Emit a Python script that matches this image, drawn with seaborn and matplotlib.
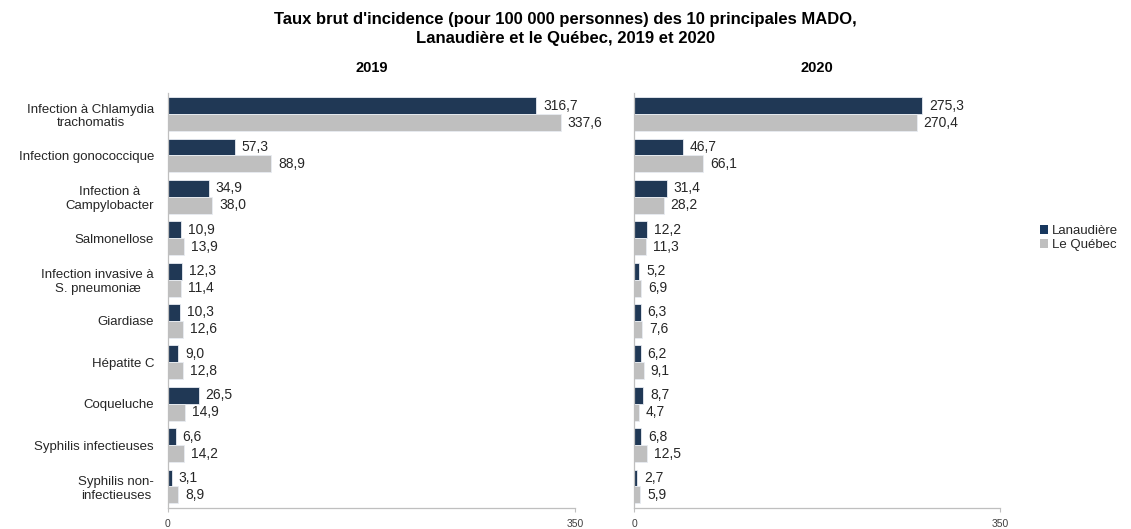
import matplotlib
matplotlib.use("Agg")
import matplotlib.pyplot as plt
from matplotlib.patches import Patch
import seaborn as sns
import pandas as pd

categories = [
    "Infection à Chlamydia\ntrachomatis",
    "Infection gonococcique",
    "Infection à\nCampylobacter",
    "Salmonellose",
    "Infection invasive à\nS. pneumoniæ",
    "Giardiase",
    "Hépatite C",
    "Coqueluche",
    "Syphilis infectieuses",
    "Syphilis non-\ninfectieuses",
]
regions = ["Lanaudière", "Le Québec"]
lanaudiere_2019 = [316.7, 57.3, 34.9, 10.9, 12.3, 10.3, 9.0, 26.5, 6.6, 3.1]
quebec_2019 = [337.6, 88.9, 38.0, 13.9, 11.4, 12.6, 12.8, 14.9, 14.2, 8.9]
lanaudiere_2020 = [275.3, 46.7, 31.4, 12.2, 5.2, 6.3, 6.2, 8.7, 6.8, 2.7]
quebec_2020 = [270.4, 66.1, 28.2, 11.3, 6.9, 7.6, 9.1, 4.7, 12.5, 5.9]
x_ticks = [0, 350]

colors = {"Lanaudière": "#17375E", "Le Québec": "#BFBFBF"}
text_color = "#262626"


def long_frame(lan, qc):
    rows = []
    for cat, a, b in zip(categories, lan, qc):
        rows.append({"cat": cat, "region": regions[0], "taux": a})
        rows.append({"cat": cat, "region": regions[1], "taux": b})
    return pd.DataFrame(rows)


sns.set_theme(style="white")
plt.rcParams["font.family"] = ["Liberation Sans", "DejaVu Sans"]

fig = plt.figure(figsize=(11.31, 5.29), dpi=100)
ax1 = fig.add_axes([0.1485, 0.0397, 0.360, 0.7845])
ax2 = fig.add_axes([0.5606, 0.0397, 0.3236, 0.7845])

panels = [
    (ax1, "2019", long_frame(lanaudiere_2019, quebec_2019)),
    (ax2, "2020", long_frame(lanaudiere_2020, quebec_2020)),
]

for ax, year, df in panels:
    sns.barplot(
        data=df, x="taux", y="cat", hue="region", order=categories,
        hue_order=regions, palette=colors, orient="h", width=0.82,
        edgecolor="#E8ECF2", linewidth=0.6, errorbar=None, legend=False, ax=ax,
    )
    for container in ax.containers:
        ax.bar_label(
            container,
            labels=[f"{v:.1f}".replace(".", ",") for v in container.datavalues],
            padding=5, fontsize=10, color=text_color,
        )
    ax.set_xlim(0, 350)
    ax.set_ylim(len(categories) - 0.48, -0.51)
    ax.set_xticks(x_ticks)
    ax.set_xticklabels([str(t) for t in x_ticks], fontsize=7.5, color="#404040")
    ax.tick_params(axis="x", bottom=True, length=3, width=0.8, color="#BFBFBF", pad=5)
    ax.tick_params(axis="y", left=False, length=0)
    ax.set_xlabel("")
    ax.set_ylabel("")
    for side in ["top", "right"]:
        ax.spines[side].set_visible(False)
    for side in ["left", "bottom"]:
        ax.spines[side].set_color("#BFBFBF")
        ax.spines[side].set_linewidth(0.9)
    ax.set_title(year, fontsize=10.5, fontweight="bold", color="black", pad=15)

for lbl in ax1.get_yticklabels():
    lbl.set_multialignment("center")
    lbl.set_fontsize(9.5)
    lbl.set_color(text_color)
ax1.tick_params(axis="y", pad=10)
ax2.set_yticklabels([])

fig.suptitle(
    "Taux brut d'incidence (pour 100 000 personnes) des 10 principales MADO,\n"
    "Lanaudière et le Québec, 2019 et 2020",
    fontsize=12, fontweight="bold", color="black", y=0.978, linespacing=1.4,
)

handles = [Patch(facecolor=colors[r], edgecolor="none", label=r) for r in regions]
fig.legend(
    handles=handles, loc="center left", bbox_to_anchor=(0.915, 0.55),
    frameon=False, fontsize=9.5, handlelength=0.6, handleheight=0.6,
    handletextpad=0.3, labelspacing=0.15, borderaxespad=0,
)

fig.savefig("out.png", dpi=100)
